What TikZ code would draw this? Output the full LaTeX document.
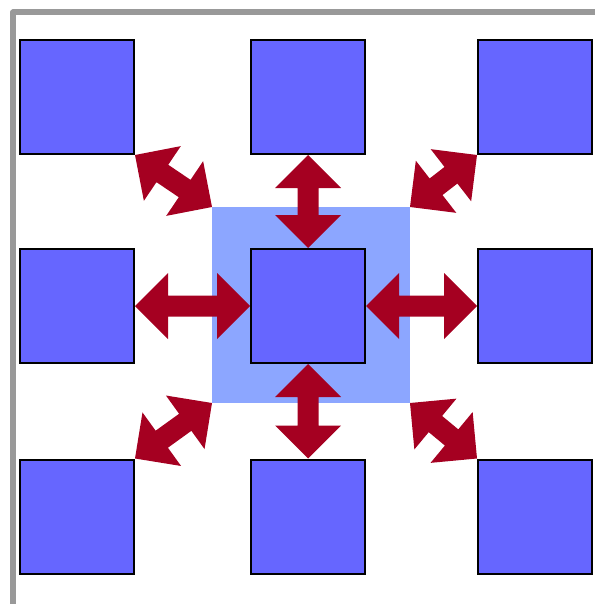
\documentclass[tikz,border=0pt]{standalone}
\usetikzlibrary{calc}
\definecolor{sqblue}{RGB}{102,102,255}
\definecolor{bgblue}{RGB}{140,166,255}
\definecolor{arrred}{RGB}{165,0,33}
\definecolor{framegray}{RGB}{153,153,153}
\tikzset{
  sq/.style={draw=black, line width=2pt, fill=sqblue, minimum size=114pt, inner sep=0pt},
  bgbox/.style={fill=bgblue, minimum width=198pt, minimum height=196pt, inner sep=0pt, outer sep=0pt},
  arrowfill/.style={fill=arrred},
  frameline/.style={draw=framegray, line width=6pt, line join=round}
}
\newcommand\dblarr[2]{%
  \coordinate (hA) at ($(#1)!33pt!(#2)$);
  \coordinate (hB) at ($(#2)!33pt!(#1)$);
  \fill[arrowfill] (#1) -- ($(hA)!33pt!90:(#2)$) -- ($(hA)!10.5pt!90:(#2)$)
    -- ($(hB)!10.5pt!-90:(#1)$) -- ($(hB)!33pt!-90:(#1)$) -- (#2)
    -- ($(hB)!33pt!90:(#1)$) -- ($(hB)!10.5pt!90:(#1)$)
    -- ($(hA)!10.5pt!-90:(#2)$) -- ($(hA)!33pt!-90:(#2)$) -- cycle;}
\begin{document}
\begin{tikzpicture}[x=1pt,y=-1pt]
\useasboundingbox (0,0) rectangle (594,604);
\draw[frameline] (13,610) -- (13,12.5) -- (600,12.5);
\node[bgbox] (bg) at (311,305) {};
\node[sq] (tl) at (77,97) {};
\node[sq] (tm) at (308,97) {};
\node[sq] (tr) at (535,97) {};
\node[sq] (ml) at (77,306) {};
\node[sq] (m)  at (308,306) {};
\node[sq] (mr) at (535,306) {};
\node[sq] (bl) at (77,516.5) {};
\node[sq] (bm) at (308,516.5) {};
\node[sq] (br) at (535,516.5) {};
\dblarr{tm.south}{m.north}
\dblarr{m.south}{bm.north}
\dblarr{ml.east}{m.west}
\dblarr{m.east}{mr.west}
\dblarr{tl.south east}{bg.north west}
\dblarr{tr.south west}{bg.north east}
\dblarr{bl.north east}{bg.south west}
\dblarr{br.north west}{bg.south east}
\end{tikzpicture}
\end{document}
